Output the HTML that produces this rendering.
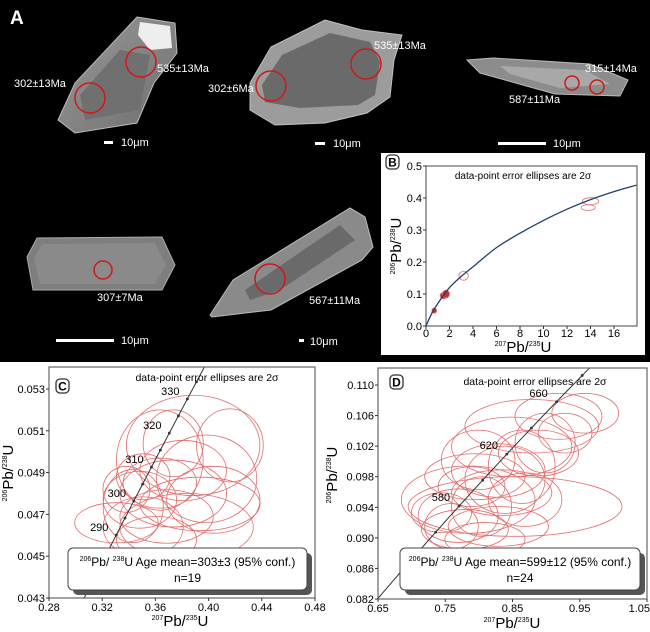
<!DOCTYPE html>
<html><head><meta charset="utf-8">
<style>
html,body{margin:0;padding:0;background:#fff;}
svg{display:block;font-family:"Liberation Sans",sans-serif;}
</style></head>
<body>
<svg id="fig" width="650" height="632" viewBox="0 0 650 632" xmlns="http://www.w3.org/2000/svg">
<defs>
<linearGradient id="zg" x1="0" y1="0" x2="1" y2="1"><stop offset="0" stop-color="#9a9a9a"/><stop offset="1" stop-color="#6e6e6e"/></linearGradient>
</defs>
<rect x="0" y="0" width="650" height="362" fill="#000"/>
<text x="10" y="24" fill="#fff" font-size="19" font-weight="bold">A</text>

<g>
<polygon points="137,17 175,23 177,53 154,83 137,123 75,133 58,120 75,83" fill="url(#zg)" stroke="#bbb" stroke-width="1"/>
<polygon points="140,22 170,26 172,48 150,50 138,35" fill="#eee"/>
<polygon points="120,50 150,55 140,110 85,120 80,95" fill="#707070"/>
<circle cx="141" cy="62" r="15" fill="none" stroke="#d01818" stroke-width="1.5"/>
<circle cx="90" cy="98" r="15" fill="none" stroke="#d01818" stroke-width="1.5"/>
</g>
<text x="14" y="87" fill="#fff" font-size="11">302±13Ma</text>
<text x="157" y="72" fill="#fff" font-size="11">535±13Ma</text>
<rect x="104" y="141" width="9" height="3" fill="#fff"/>
<text x="121" y="146" fill="#fff" font-size="11">10μm</text>

<g>
<polygon points="250,83 271,47 325,20 362,30 402,35 394,60 390,97 367,113 325,123 275,125 250,110" fill="#9c9c9c" stroke="#c0c0c0"/>
<polygon points="262,85 282,55 330,33 370,42 380,62 375,95 358,105 300,108 265,102" fill="#6a6a6a"/>
<circle cx="271" cy="86" r="15" fill="none" stroke="#d01818" stroke-width="1.5"/>
<circle cx="366" cy="64" r="15" fill="none" stroke="#d01818" stroke-width="1.5"/>
</g>
<text x="208" y="92" fill="#fff" font-size="11">302±6Ma</text>
<text x="374" y="49" fill="#fff" font-size="11">535±13Ma</text>
<rect x="315" y="142" width="10" height="3" fill="#fff"/>
<text x="333" y="147" fill="#fff" font-size="11">10μm</text>

<g>
<polygon points="467,60 493,58 590,64 628,80 620,96 555,94 480,73" fill="#8c8c8c" stroke="#bbb"/>
<polygon points="500,66 585,70 610,84 560,88 510,74" fill="#a8a8a8"/>
<circle cx="572" cy="83" r="7" fill="none" stroke="#d01818" stroke-width="1.5"/>
<circle cx="597" cy="87" r="7" fill="none" stroke="#d01818" stroke-width="1.5"/>
</g>
<text x="585" y="72" fill="#fff" font-size="11">315±14Ma</text>
<text x="509" y="103" fill="#fff" font-size="11">587±11Ma</text>
<rect x="498" y="142" width="48" height="3" fill="#fff"/>
<text x="553" y="147" fill="#fff" font-size="11">10μm</text>

<g>
<polygon points="27,257 37,238 162,237 175,265 162,290 33,290" fill="#7e7e7e" stroke="#aaa"/>
<polygon points="34,258 42,244 155,243 166,265 155,284 40,284" fill="#8a8a8a"/>
<circle cx="103" cy="270" r="9" fill="none" stroke="#d01818" stroke-width="1.5"/>
</g>
<text x="97" y="301" fill="#fff" font-size="11">307±7Ma</text>
<rect x="56" y="339" width="58" height="3" fill="#fff"/>
<text x="121" y="344" fill="#fff" font-size="11">10μm</text>

<g>
<polygon points="210,315 233,280 350,208 365,217 373,247 362,260 271,310 212,317" fill="#8a8a8a" stroke="#bbb"/>
<polygon points="245,290 340,225 355,240 280,290 250,300" fill="#6a6a6a"/>
<circle cx="270" cy="279" r="15" fill="none" stroke="#d01818" stroke-width="1.5"/>
</g>
<text x="309" y="304" fill="#fff" font-size="11">567±11Ma</text>
<rect x="299" y="339" width="5" height="3" fill="#fff"/>
<text x="310" y="345" fill="#fff" font-size="11">10μm</text>

<rect x="381" y="153" width="264" height="202" fill="#fff"/>
<g id="panelB"></g>
<g id="panelC"></g>
<g id="panelD"></g>
</svg>
<script>
// ---- Panel B data ----
const bXTicks = [0,2,4,6,8,10,12,14,16];
const bYTicks = [0.0,0.1,0.2,0.3,0.4,0.5];
const bCurveX = [0,0.5,1,2,3,4,6,8,10,12,14,16,17.9];
const bCurveY = [0,0.04,0.07,0.12,0.155,0.185,0.245,0.29,0.33,0.365,0.395,0.42,0.44];
const bEllX = [0.7,1.5,1.7,3.2,14.0,13.8];
const bEllY = [0.048,0.095,0.1,0.157,0.39,0.37];
const bEllRx = [0.2,0.3,0.3,0.4,0.7,0.6];
const bEllRy = [0.008,0.01,0.012,0.014,0.011,0.009];
// ---- Panel C data ----
const cXTicks = [0.28,0.32,0.36,0.40,0.44,0.48];
const cYTicks = [0.043,0.045,0.047,0.049,0.051,0.053];
const cAgeLabels = [290,300,310,320,330];
const cEllX = [0.3307,0.3483,0.3633,0.3884,0.4160,0.3935,0.3684,0.3508,0.3633,0.3734,0.3809,0.3508,0.3985,0.3433,0.3834,0.3608,0.3734,0.3382,0.4035];
const cEllY = [0.0466,0.0477,0.0496,0.0503,0.0503,0.0475,0.0469,0.0464,0.0485,0.0480,0.0491,0.0488,0.0487,0.0474,0.0464,0.0458,0.0504,0.0482,0.0477];
const cEllRx = [0.0314,0.0276,0.0326,0.0502,0.0251,0.0452,0.0351,0.0301,0.0276,0.0402,0.0326,0.0201,0.0377,0.0226,0.0502,0.0301,0.0226,0.0176,0.0351];
const cEllRy = [0.00096,0.00136,0.0024,0.0024,0.00175,0.00128,0.00128,0.00144,0.0012,0.0016,0.00144,0.0011,0.0021,0.00175,0.0016,0.0011,0.0016,0.0011,0.0016];
// ---- Panel D data ----
const dXTicks = [0.65,0.75,0.85,0.95,1.05];
const dYTicks = [0.082,0.086,0.090,0.094,0.098,0.102,0.106,0.110];
const dAgeLabels = [580,620,660];
const dEllX = [.8538,.7841,.7692,.7791,.8289,.7940,.8289,.8488,.8786,.9184,.9582,.8985,.8339,.7990,.7444,.8090,.8637,.7891,.9283,.8388,.7593,.8687,.8040,.8886];
const dEllY = [.0941,.0950,.0929,.0911,.0915,.0980,.0988,.1019,.1046,.1059,.1063,.1024,.0959,.1002,.0933,.0898,.0993,.0967,.1037,.0976,.0915,.0950,.0941,.1011];
const dEllRx = [.159,.0994,.0596,.0646,.0746,.0746,.0696,.0895,.0994,.0646,.0497,.0447,.0746,.0547,.0447,.0596,.0497,.0497,.0398,.0596,.0398,.0547,.0447,.0596];
const dEllRy = [.0039,.0044,.0035,.0026,.0026,.0030,.0035,.0039,.0035,.0030,.0026,.0039,.0030,.0039,.0026,.0022,.0048,.0026,.0026,.0044,.0030,.0035,.0039,.0030];

const L238 = 1.55125e-4, L235 = 9.8485e-4; // per Ma
function concX(t){return Math.exp(L235*t)-1;}
function concY(t){return Math.exp(L238*t)-1;}

const NS = "http://www.w3.org/2000/svg";
function el(tag, parent){const e=document.createElementNS(NS,tag);parent.appendChild(e);return e;}
function scale(d0,d1,p0,p1){return v=>p0+(v-d0)/(d1-d0)*(p1-p0);}

function axisTitle(g, x, y, top, bot, rotate, name){
  const t = el('text', g);
  
  
  t.setAttribute('x', x); t.setAttribute('y', y);
  t.setAttribute('text-anchor','middle');
  t.setAttribute('font-size','15');
  if(rotate) t.setAttribute('transform','rotate(-90 '+x+' '+y+')');
  t.innerHTML = '<tspan font-size="7" dy="-6">'+top+'</tspan><tspan dy="6">Pb/</tspan><tspan font-size="7" dy="-6">'+bot+'</tspan><tspan dy="6">U</tspan>';
}

function frameAxes(g, X, Y, xt, yt, xfmt, yfmt, box, prefix, xoff){
  const r = el('rect', g);
  
  
  r.setAttribute('x', box[0]); r.setAttribute('y', box[1]);
  r.setAttribute('width', box[2]-box[0]); r.setAttribute('height', box[3]-box[1]);
  r.setAttribute('fill','none'); r.setAttribute('stroke','#666'); r.setAttribute('stroke-width','1.2');
  xt.forEach((v,i)=>{
    const tk = el('line', g);
    
    
    tk.setAttribute('x1',X(v)); tk.setAttribute('x2',X(v)); tk.setAttribute('y1',box[3]); tk.setAttribute('y2',box[3]+3);
    tk.setAttribute('stroke','#333');
    const t = el('text', g);
    
    
    const nearEdge = X(v) > 630;
    t.setAttribute('x', nearEdge ? 650 : X(v)); t.setAttribute('y',box[3]+(xoff||13));
    t.setAttribute('text-anchor', nearEdge ? 'end' : 'middle'); t.setAttribute('font-size','11');
    t.textContent = xfmt(v);
  });
  yt.forEach(v=>{
    const tk = el('line', g);
    
    
    tk.setAttribute('x1',box[0]-3); tk.setAttribute('x2',box[0]); tk.setAttribute('y1',Y(v)); tk.setAttribute('y2',Y(v));
    tk.setAttribute('stroke','#333');
    const t = el('text', g);
    
    
    t.setAttribute('x',box[0]-4); t.setAttribute('y',Y(v)+4);
    t.setAttribute('text-anchor','end'); t.setAttribute('font-size','11');
    t.textContent = yfmt(v);
  });
}

function ellipses(g, X, Y, ex, ey, erx, ery, prefix, fill){
  for(let i=0;i<ex.length;i++){
    const e = el('ellipse', g);
    
    
    e.setAttribute('cx', X(ex[i])); e.setAttribute('cy', Y(ey[i]));
    e.setAttribute('rx', Math.abs(X(ex[i]+erx[i])-X(ex[i])));
    e.setAttribute('ry', Math.abs(Y(ey[i]+ery[i])-Y(ey[i])));
    e.setAttribute('fill', fill ? fill(i) : 'none');
    e.setAttribute('stroke','#e36b6b'); e.setAttribute('stroke-width','0.8');
  }
}

function plainText(g, x, y, s, size, name, anchor){
  const t = el('text', g);
  
  
  t.setAttribute('x',x); t.setAttribute('y',y);
  t.setAttribute('font-size',size);
  t.setAttribute('text-anchor',anchor||'middle');
  t.textContent = s;
  return t;
}

function letterBadge(g, x, y, s, name){
  const r = el('rect', g);
  
  
  r.setAttribute('x',x-6); r.setAttribute('y',y-12); r.setAttribute('width',13); r.setAttribute('height',14);
  r.setAttribute('rx',4); r.setAttribute('fill','#fff'); r.setAttribute('stroke','#333'); r.setAttribute('stroke-width','1.3');
  const t = plainText(g, x+0.5, y-0.5, s, 12, name);
  t.setAttribute('font-weight','bold');
}

function concordiaPanel(g, X, Y, tMin, tMax, ages, labelDx, labelDy, prefix){
  let d = '';
  for(let t=tMin;t<=tMax;t+=2){ d += (d?'L':'M')+X(concX(t)).toFixed(2)+','+Y(concY(t)).toFixed(2); }
  const p = el('path', g);
  
  
  p.setAttribute('d', d); p.setAttribute('fill','none'); p.setAttribute('stroke','#333'); p.setAttribute('stroke-width','1');
  const step = ages[1]-ages[0];
  for(let t=ages[0]-step; t<=ages[ages.length-1]+step; t+=step/2){
    const c = el('circle', g);
    
    
    c.setAttribute('cx', X(concX(t))); c.setAttribute('cy', Y(concY(t))); c.setAttribute('r', 1.4); c.setAttribute('fill','#333');
  }
  ages.forEach(a=>{
    plainText(g, X(concX(a))+labelDx, Y(concY(a))+labelDy, String(a), 11, prefix+'-age-label');
  });
}

function meanBox(g, x0, y0, x1, y1, line1, line2, prefix){
  const s = el('rect', g);
  
  
  s.setAttribute('x',x0+5); s.setAttribute('y',y0+5); s.setAttribute('width',x1-x0); s.setAttribute('height',y1-y0);
  s.setAttribute('rx',5); s.setAttribute('fill','#555');
  const r = el('rect', g);
  
  
  r.setAttribute('x',x0); r.setAttribute('y',y0); r.setAttribute('width',x1-x0); r.setAttribute('height',y1-y0);
  r.setAttribute('rx',5); r.setAttribute('fill','#fff'); r.setAttribute('stroke','#444');
  const t = el('text', g);
  
  
  t.setAttribute('x',(x0+x1)/2); t.setAttribute('y',y0+18); t.setAttribute('text-anchor','middle'); t.setAttribute('font-size','12');
  t.innerHTML = '<tspan font-size="7" dy="-5">206</tspan><tspan dy="5">Pb/ </tspan><tspan font-size="7" dy="-5">238</tspan><tspan dy="5">'+line1+'</tspan>';
  plainText(g, (x0+x1)/2, y0+34, line2, 12, prefix+'-n-text');
}

// ---- Panel B ----
(function(){
  const g = document.getElementById('panelB');
  const box = [426,166,637,326];
  const X = scale(0,16,426,614), Y = scale(0,0.5,326,166);
  frameAxes(g, X, Y, bXTicks, bYTicks, v=>String(v), v=>v.toFixed(1), box, 'panel-b', 11);
  ellipses(g, X, Y, bEllX, bEllY, bEllRx, bEllRy, 'panel-b', i=> i<3 ? '#c83030' : 'none');
  const px = bCurveX.map(X), py = bCurveY.map(Y);
  let d = 'M'+px[0]+','+py[0];
  for(let i=0;i<px.length-1;i++){
    const x0=px[Math.max(i-1,0)], y0=py[Math.max(i-1,0)];
    const x3=px[Math.min(i+2,px.length-1)], y3=py[Math.min(i+2,py.length-1)];
    const c1x=px[i]+(px[i+1]-x0)/6, c1y=py[i]+(py[i+1]-y0)/6;
    const c2x=px[i+1]-(x3-px[i])/6, c2y=py[i+1]-(y3-py[i])/6;
    d += 'C'+c1x.toFixed(2)+','+c1y.toFixed(2)+' '+c2x.toFixed(2)+','+c2y.toFixed(2)+' '+px[i+1].toFixed(2)+','+py[i+1].toFixed(2);
  }
  const p = el('path', g);
  
  
  p.setAttribute('d', d); p.setAttribute('fill','none'); p.setAttribute('stroke','#1f3f6e'); p.setAttribute('stroke-width','1.3');
  plainText(g, 523, 179, 'data-point error ellipses are 2σ', 10, 'panel-b-title');
  letterBadge(g, 392, 167, 'B', 'panel-b-label');
  axisTitle(g, 401, 246, '206', '238', true, 'panel-b-y-axis-title');
  axisTitle(g, 523, 352, '207', '235', false, 'panel-b-x-axis-title');
})();

// ---- Panel C ----
(function(){
  const g = document.getElementById('panelC');
  const box = [49,367,315,598];
  const X = scale(0.28,0.48,49,315), Y = scale(0.043,0.053,598,389);
  const cp = el('clipPath', g); cp.setAttribute('id','clipC');
  const cr = el('rect', cp); cr.setAttribute('x',box[0]); cr.setAttribute('y',box[1]); cr.setAttribute('width',box[2]-box[0]); cr.setAttribute('height',box[3]-box[1]);
  const inner = el('g', g); inner.setAttribute('clip-path','url(#clipC)');
  
  
  ellipses(inner, X, Y, cEllX, cEllY, cEllRx, cEllRy, 'panel-c');
  concordiaPanel(inner, X, Y, 260, 350, cAgeLabels, -17, -4, 'panel-c');
  frameAxes(g, X, Y, cXTicks, cYTicks, v=>v.toFixed(2), v=>v.toFixed(3), box, 'panel-c', 13);
  plainText(g, 207, 381, 'data-point error ellipses are 2σ', 10.5, 'panel-c-title');
  letterBadge(g, 62, 391, 'C', 'panel-c-label');
  axisTitle(g, 13, 473, '206', '238', true, 'panel-c-y-axis-title');
  axisTitle(g, 180, 626, '207', '235', false, 'panel-c-x-axis-title');
  meanBox(g, 68, 548, 307, 590, 'U Age mean=303±3 (95% conf.)', 'n=19', 'panel-c');
})();

// ---- Panel D ----
(function(){
  const g = document.getElementById('panelD');
  const box = [378,368,647,599];
  const X = scale(0.65,1.05,378,647), Y = scale(0.082,0.110,599,385);
  const cp = el('clipPath', g); cp.setAttribute('id','clipD');
  const cr = el('rect', cp); cr.setAttribute('x',box[0]); cr.setAttribute('y',box[1]); cr.setAttribute('width',box[2]-box[0]); cr.setAttribute('height',box[3]-box[1]);
  const inner = el('g', g); inner.setAttribute('clip-path','url(#clipD)');
  
  
  ellipses(inner, X, Y, dEllX, dEllY, dEllRx, dEllRy, 'panel-d');
  concordiaPanel(inner, X, Y, 500, 720, dAgeLabels, -18, -5, 'panel-d');
  frameAxes(g, X, Y, dXTicks, dYTicks, v=>v.toFixed(2), v=>v.toFixed(3), box, 'panel-d', 13);
  plainText(g, 535, 385, 'data-point error ellipses are 2σ', 10.5, 'panel-d-title');
  letterBadge(g, 396, 387, 'D', 'panel-d-label');
  axisTitle(g, 337, 475, '206', '238', true, 'panel-d-y-axis-title');
  axisTitle(g, 512, 628, '207', '235', false, 'panel-d-x-axis-title');
  meanBox(g, 400, 548, 640, 590, 'U Age mean=599±12 (95% conf.)', 'n=24', 'panel-d');
})();
</script>
</body></html>
